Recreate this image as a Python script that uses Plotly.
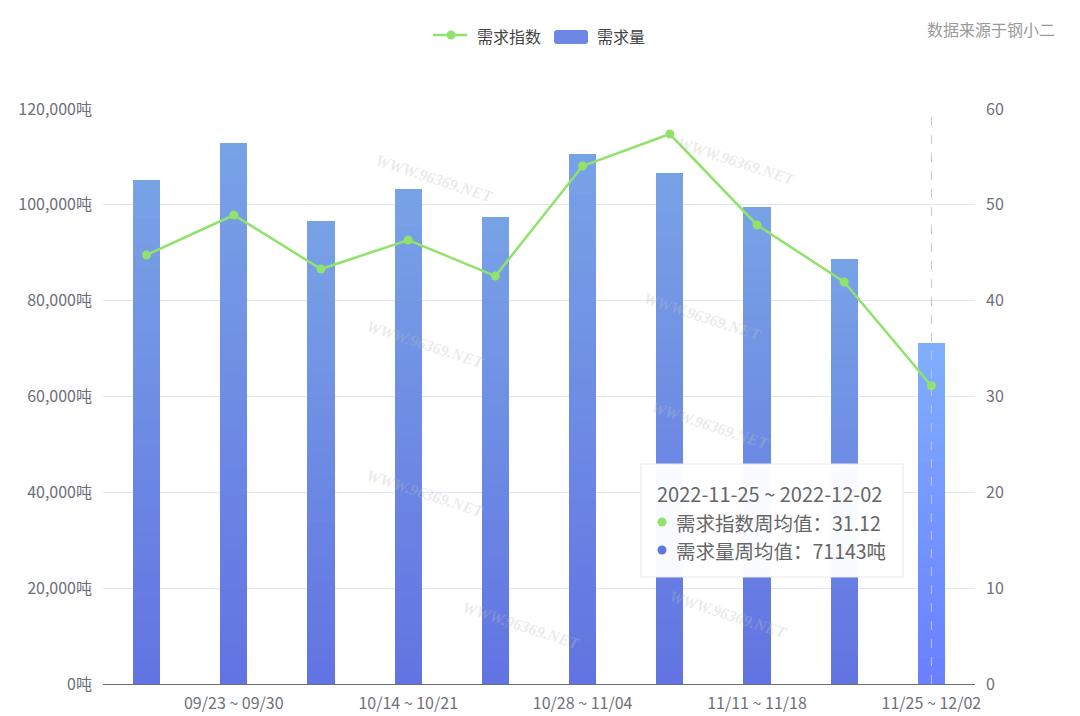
import plotly.graph_objects as go

categories = ["09/16 ~ 09/23", "09/23 ~ 09/30", "10/07 ~ 10/14", "10/14 ~ 10/21", "10/21 ~ 10/28",
              "10/28 ~ 11/04", "11/04 ~ 11/11", "11/11 ~ 11/18", "11/18 ~ 11/25", "11/25 ~ 12/02"]
volume = [105200, 112900, 96600, 103300, 97500, 110600, 106600, 99500, 88700, 71143]
index_vals = [44.77, 48.94, 43.30, 46.33, 42.57, 54.05, 57.39, 47.90, 41.95, 31.12]
tick_labels = categories[1::2]
tooltip_title = "2022-11-25 ~ 2022-12-02"
series_names = ["需求指数", "需求量"]

FONT = "Noto Sans CJK SC, Microsoft YaHei, sans-serif"
GREEN = "#91E26B"

# plot area in pixels (for paper-coordinate conversions of decorations)
PL, PR, PT, PB = 103, 975, 109, 684


def px(x):
    return (x - PL) / (PR - PL)


def py(y):
    return (PB - y) / (PB - PT)


def lerp(c1, c2, t):
    return "rgb({},{},{})".format(*[round(a + (b - a) * t) for a, b in zip(c1, c2)])


top_n, bot_n = (120, 162, 230), (98, 116, 226)
top_h, bot_h = (128, 174, 255), (106, 128, 255)
N = 40

fig = go.Figure()
last = len(categories) - 1
for k in range(N):
    frac = (N - k) / N
    t = k / (N - 1)
    cols = [lerp(top_h, bot_h, t) if i == last else lerp(top_n, bot_n, t) for i in range(len(categories))]
    fig.add_trace(go.Bar(
        x=categories, y=[v * frac for v in volume], marker=dict(color=cols, line=dict(width=0)),
        width=0.31, name=series_names[1], showlegend=False, hoverinfo="skip", yaxis="y"))

fig.add_trace(go.Scatter(
    x=categories, y=index_vals, mode="lines+markers", name=series_names[0],
    line=dict(color=GREEN, width=2.5), marker=dict(size=9, color=GREEN),
    yaxis="y2", showlegend=False, hoverinfo="skip"))

# watermark texts
wm = [(0.38, 0.93), (0.80, 0.96), (0.76, 0.69), (0.37, 0.59), (0.77, 0.45),
      (0.37, 0.28), (0.79, 0.07), (0.48, 0.05)]
for x, y in wm:
    fig.add_annotation(xref="paper", yref="paper", x=x, y=y, text="<i><b>WWW.96369.NET</b></i>",
                       showarrow=False, textangle=18,
                       font=dict(family="Liberation Serif, serif", size=16, color="rgba(190,190,190,0.33)"))

# axis pointer
fig.add_shape(type="line", xref="x", yref="paper", x0=categories[last], x1=categories[last],
              y0=0, y1=py(113), line=dict(color="#c4c4c4", width=1, dash="dash"))

# manual legend
fig.add_shape(type="line", xref="paper", yref="paper", x0=px(433), x1=px(467), y0=py(35), y1=py(35),
              line=dict(color=GREEN, width=2.5))
fig.add_shape(type="circle", xref="paper", yref="paper", x0=px(446.5), x1=px(455.5), y0=py(39.5), y1=py(30.5),
              fillcolor=GREEN, line=dict(width=0))
fig.add_annotation(xref="paper", yref="paper", x=px(475), y=py(36), xanchor="left", yanchor="middle",
                   text=series_names[0], showarrow=False, font=dict(family=FONT, size=16, color="#444444"))
x0, x1, y0, y1 = px(554), px(588), py(44), py(30)
rx, ry = 3 / (PR - PL), 3 / (PB - PT)
path = (f"M {x0+rx},{y0} L {x1-rx},{y0} Q {x1},{y0} {x1},{y0+ry} L {x1},{y1-ry} Q {x1},{y1} {x1-rx},{y1} "
        f"L {x0+rx},{y1} Q {x0},{y1} {x0},{y1-ry} L {x0},{y0+ry} Q {x0},{y0} {x0+rx},{y0} Z")
fig.add_shape(type="path", xref="paper", yref="paper", path=path, fillcolor="#6C88E4", line=dict(width=0))
fig.add_annotation(xref="paper", yref="paper", x=px(595), y=py(36), xanchor="left", yanchor="middle",
                   text=series_names[1], showarrow=False, font=dict(family=FONT, size=16, color="#444444"))

# tooltip box
fig.add_shape(type="rect", xref="paper", yref="paper", x0=px(641), x1=px(903), y0=py(577), y1=py(464),
              fillcolor="rgba(255,255,255,0.97)", line=dict(color="#e8e8e8", width=1), layer="above")
fig.add_annotation(xref="paper", yref="paper", x=px(655), y=py(493), xanchor="left", yanchor="middle",
                   text=tooltip_title, showarrow=False, font=dict(family=FONT, size=20, color="#666666"))
for cy, col, txt in [(522, GREEN, "{}周均值：{:.2f}".format(series_names[0], index_vals[last])),
                     (550, "#6274E2", "{}周均值：{}吨".format(series_names[1], volume[last]))]:
    fig.add_shape(type="circle", xref="paper", yref="paper", x0=px(657.5), x1=px(666.5),
                  y0=py(cy + 4.5), y1=py(cy - 4.5), fillcolor=col, line=dict(width=0), layer="above")
    fig.add_annotation(xref="paper", yref="paper", x=px(674), y=py(cy), xanchor="left", yanchor="middle",
                       text=txt, showarrow=False, font=dict(family=FONT, size=19.5, color="#666666"))

# source
fig.add_annotation(xref="paper", yref="paper", x=px(1057), y=py(29), xanchor="right", yanchor="middle",
                   text="数据来源于钢小二", showarrow=False, font=dict(family=FONT, size=16, color="#9a9a9a"))

fig.update_layout(
    width=1080, height=716, margin=dict(l=PL, r=1080 - PR, t=PT, b=716 - PB, autoexpand=False),
    paper_bgcolor="white", plot_bgcolor="white", barmode="overlay", bargap=0,
    font=dict(family=FONT, size=16, color="#6E7079"), showlegend=False,
    xaxis=dict(type="category", tickmode="array", tickvals=tick_labels, ticktext=tick_labels,
               showline=True, linecolor="#6E7079", linewidth=1, showgrid=False, ticks="",
               tickfont=dict(size=16, color="#6E7079"), range=[-0.5, len(categories) - 0.5],
               ticklabelstandoff=5, automargin=False),
    yaxis=dict(range=[0, 120000], dtick=20000, tickformat=",", ticksuffix="吨",
               showgrid=True, gridcolor="#E0E6F1", zeroline=False, ticks="",
               tickfont=dict(size=16, color="#6E7079"), ticklabelstandoff=10, automargin=False),
    yaxis2=dict(range=[0, 60], dtick=10, overlaying="y", side="right", showgrid=False,
                zeroline=False, ticks="", tickfont=dict(size=16, color="#6E7079"), ticklabelstandoff=10,
                automargin=False),
)

fig.write_html("out.html")
